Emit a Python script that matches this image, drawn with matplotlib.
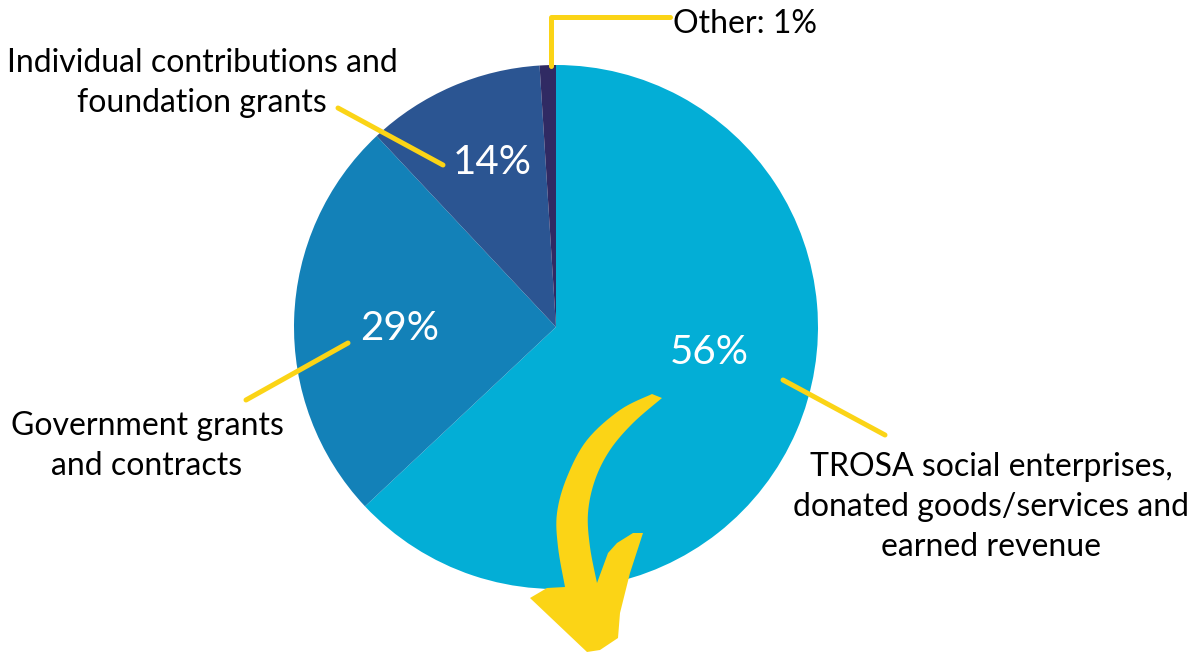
import numpy as np
import matplotlib.pyplot as plt
from matplotlib.patches import Polygon

plt.rcParams['font.family'] = ['Lato', 'DejaVu Sans']

W, H = 1201, 653

# slice sizes as drawn in the picture (clockwise from 12 o'clock)
shares = [63, 25, 11, 1]
pct_labels = ["56%", "29%", "14%", "1%"]
names = [
    "TROSA social enterprises,\ndonated goods/services and\nearned revenue",
    "Government grants\nand contracts",
    "Individual contributions and\nfoundation grants",
    "Other: 1%",
]
colors = ["#03aed6", "#1381b8", "#2b5592", "#302a63"]
yellow = "#fbd416"


def py(y):
    # picture y (top-down) -> axes y
    return H - y


def smooth(pts, n=8):
    # catmull-rom through the given points
    pts = np.asarray(pts, float)
    p = np.vstack([pts[0], pts, pts[-1]])
    out = []
    for i in range(1, len(p) - 2):
        p0, p1, p2, p3 = p[i - 1], p[i], p[i + 1], p[i + 2]
        for t in np.linspace(0, 1, n, endpoint=False):
            out.append(0.5 * (2 * p1 + (-p0 + p2) * t
                              + (2 * p0 - 5 * p1 + 4 * p2 - p3) * t ** 2
                              + (-p0 + 3 * p1 - 3 * p2 + p3) * t ** 3))
    out.append(pts[-1])
    return out


fig = plt.figure(figsize=(W / 100, H / 100), dpi=100)
ax = fig.add_axes([0, 0, 1, 1])

ax.pie(shares, colors=colors, startangle=90, counterclock=False,
       center=(556, py(327)), radius=262, wedgeprops=dict(linewidth=0))
ax.set_xlim(0, W)
ax.set_ylim(0, H)
ax.set_aspect('equal')
ax.axis('off')

# percentage labels inside the slices
for txt, (x, y) in zip(pct_labels[:3], [(709, 353), (400, 328), (492, 162)]):
    ax.text(x, py(y), txt, color="white", fontsize=29,
            ha="center", va="center")

# leader lines
lw = 3.6
ax.plot([783, 885], [py(380), py(435)], color=yellow, lw=lw, solid_capstyle="round")
ax.plot([348, 246], [py(343), py(400)], color=yellow, lw=lw, solid_capstyle="round")
ax.plot([443, 338], [py(165), py(108)], color=yellow, lw=lw, solid_capstyle="round")
ax.plot([551, 551, 670], [py(66), py(17), py(17)], color=yellow, lw=lw,
        solid_capstyle="round", solid_joinstyle="round")

# outside labels
ax.text(991, py(507), names[0], fontsize=23, ha="center", va="center",
        linespacing=1.43)
ax.text(147, py(446), names[1], fontsize=23, ha="center", va="center",
        linespacing=1.43)
ax.text(202, py(83), names[2], fontsize=23, ha="center", va="center",
        linespacing=1.43)
ax.text(673, py(24), names[3], fontsize=23, ha="left", va="center")

# curved yellow arrow
outer = [(652, 394), (620, 410), (587, 440), (567, 477), (557, 513),
         (558, 547), (565, 587)]
head = [(547, 588), (530, 598), (587, 652), (600, 650), (618, 638),
        (620, 613), (630, 573), (643, 533), (633, 533), (617, 543),
        (608, 553)]
inner = [(597, 583), (590, 547), (588, 513), (595, 480), (610, 450),
         (633, 423), (662, 398)]
arrow_pts = smooth(outer) + head + smooth(inner)
ax.add_patch(Polygon([(x, py(y)) for x, y in arrow_pts], closed=True,
                     facecolor=yellow, edgecolor="none", zorder=5))

fig.savefig("out.png", dpi=100)
